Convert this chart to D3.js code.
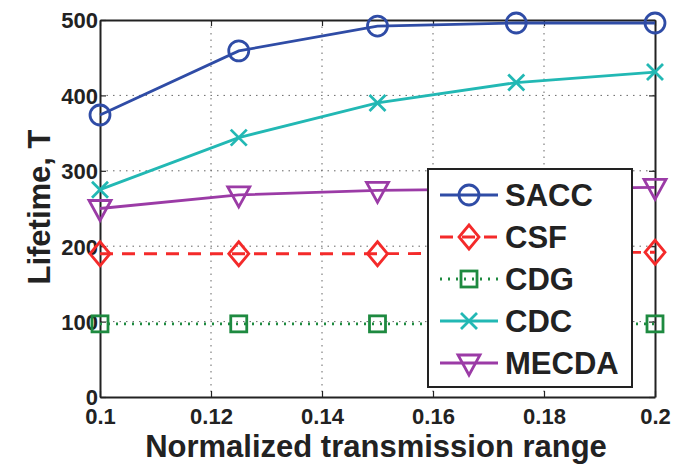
<!DOCTYPE html>
<html>
<head>
<meta charset="utf-8">
<script src="https://cdn.jsdelivr.net/npm/d3@7"></script>
<style>
  body { margin: 0; background: #fff; }
  svg text { font-family: "Liberation Sans", Arial, sans-serif; font-weight: bold; fill: #222; }
</style>
</head>
<body>
<script>
var width = 673;
var height = 465;

// data
var ranges = [0.1, 0.125, 0.15, 0.175, 0.2];
var sacc  = [374, 459, 492, 496, 496];
var csf   = [190, 190, 190, 191, 192];
var cdg   = [97, 97, 97, 97, 97];
var cdc   = [275, 344, 390, 417, 431];
var mecda = [250, 268, 274, 276, 278];

var xTicks = [0.1, 0.12, 0.14, 0.16, 0.18, 0.2];
var yTicks = [0, 100, 200, 300, 400, 500];

var series = [
    {name: "SACC",  values: sacc,  color: "#2f4ca6", dash: null,    marker: "circle"},
    {name: "CSF",   values: csf,   color: "#f42a2a", dash: "13,9",  marker: "diamond"},
    {name: "CDG",   values: cdg,   color: "#1e8a40", dash: "2,6",   marker: "square"},
    {name: "CDC",   values: cdc,   color: "#22b8b4", dash: null,    marker: "x"},
    {name: "MECDA", values: mecda, color: "#9b3ba6", dash: null,    marker: "tri"}
];

var padLeft = 100, padRight = 655, padTop = 20, padBottom = 397;

var x = d3.scaleLinear().domain([0.1, 0.2]).range([padLeft, padRight]);
var y = d3.scaleLinear().domain([0, 500]).range([padBottom, padTop]);

var svg = d3.select("body")
    .append("svg")
    .attr("width", width)
    .attr("height", height);

// grid
var grid = svg.append("g").attr("class", "grid");
grid.selectAll("line.gx")
    .data(xTicks.slice(1, -1))
    .enter().append("line")
    .attr("x1", function(d) { return x(d); })
    .attr("x2", function(d) { return x(d); })
    .attr("y1", padTop).attr("y2", padBottom)
    .attr("stroke", "#666").attr("stroke-width", 1)
    .attr("stroke-dasharray", "1.5,5");
grid.selectAll("line.gy")
    .data(yTicks.slice(1, -1))
    .enter().append("line")
    .attr("y1", function(d) { return y(d); })
    .attr("y2", function(d) { return y(d); })
    .attr("x1", padLeft).attr("x2", padRight)
    .attr("stroke", "#666").attr("stroke-width", 1)
    .attr("stroke-dasharray", "1.5,5");

// axes (ticks inside, box)
var xAxis = d3.axisBottom(x).tickValues(xTicks).tickSizeInner(-6).tickSizeOuter(0)
    .tickFormat(function(d) { return String(+d.toFixed(2)); });
var yAxis = d3.axisLeft(y).tickValues(yTicks).tickSizeInner(-6).tickSizeOuter(0);

var gx = svg.append("g").attr("transform", "translate(0," + padBottom + ")").call(xAxis);
gx.selectAll("text").attr("dy", null).attr("y", 27).style("font-size", "22px");
var gy = svg.append("g").attr("transform", "translate(" + padLeft + ",0)").call(yAxis);
gy.selectAll("text").attr("x", -2).attr("dy", "0.36em").style("font-size", "22px");

svg.append("g").attr("transform", "translate(0," + padTop + ")")
    .call(d3.axisTop(x).tickValues(xTicks).tickSizeInner(-6).tickSizeOuter(0).tickFormat(""));
svg.append("g").attr("transform", "translate(" + padRight + ",0)")
    .call(d3.axisRight(y).tickValues(yTicks).tickSizeInner(-6).tickSizeOuter(0).tickFormat(""));

svg.selectAll(".domain").attr("stroke", "#222").attr("stroke-width", 2);
svg.selectAll(".tick line").attr("stroke", "#222").attr("stroke-width", 1.2);

// marker drawing
function drawMarker(g, type, color) {
    var m = g.append("g");
    if (type === "circle") {
        m.append("circle").attr("r", 10);
    } else if (type === "diamond") {
        m.append("path").attr("d", "M0,-12L10,0L0,12L-10,0Z");
    } else if (type === "square") {
        m.append("rect").attr("x", -8).attr("y", -8).attr("width", 16).attr("height", 16);
    } else if (type === "x") {
        m.append("path").attr("d", "M-8,-8L8,8M-8,8L8,-8");
    } else if (type === "tri") {
        m.append("path").attr("d", "M-11,-8L11,-8L0,12Z");
    }
    m.selectAll("*").attr("fill", "none").attr("stroke", color).attr("stroke-width", 2.8);
    return m;
}

var line = d3.line()
    .x(function(d, i) { return x(ranges[i]); })
    .y(function(d) { return y(d); });

var plot = svg.append("g").attr("class", "series");
series.forEach(function(s) {
    var g = plot.append("g");
    g.append("path")
        .attr("d", line(s.values))
        .attr("fill", "none")
        .attr("stroke", s.color)
        .attr("stroke-width", 2.8)
        .attr("stroke-dasharray", s.dash);
    s.values.forEach(function(v, i) {
        drawMarker(g, s.marker, s.color)
            .attr("transform", "translate(" + x(ranges[i]) + "," + y(v) + ")");
    });
});

// legend
var legend = svg.append("g").attr("transform", "translate(428,169)");
legend.append("rect")
    .attr("width", 204).attr("height", 218)
    .attr("fill", "#fff").attr("stroke", "#222").attr("stroke-width", 2);
series.forEach(function(s, i) {
    var ly = 26 + i * 42;
    var row = legend.append("g").attr("transform", "translate(0," + ly + ")");
    row.append("line")
        .attr("x1", 12).attr("x2", 70)
        .attr("stroke", s.color).attr("stroke-width", 2.8)
        .attr("stroke-dasharray", s.dash);
    drawMarker(row, s.marker, s.color).attr("transform", "translate(41,0)");
    row.append("text")
        .attr("x", 77).attr("y", 0).attr("dy", "0.36em")
        .style("font-size", "31px")
        .text(s.name);
});

// axis titles
svg.append("text")
    .attr("x", 376).attr("y", 457)
    .attr("text-anchor", "middle")
    .style("font-size", "31px")
    .text("Normalized transmission range");
svg.append("text")
    .attr("transform", "translate(50,207) rotate(-90)")
    .attr("text-anchor", "middle")
    .style("font-size", "31px")
    .text("Lifetime, T");
</script>
</body>
</html>
